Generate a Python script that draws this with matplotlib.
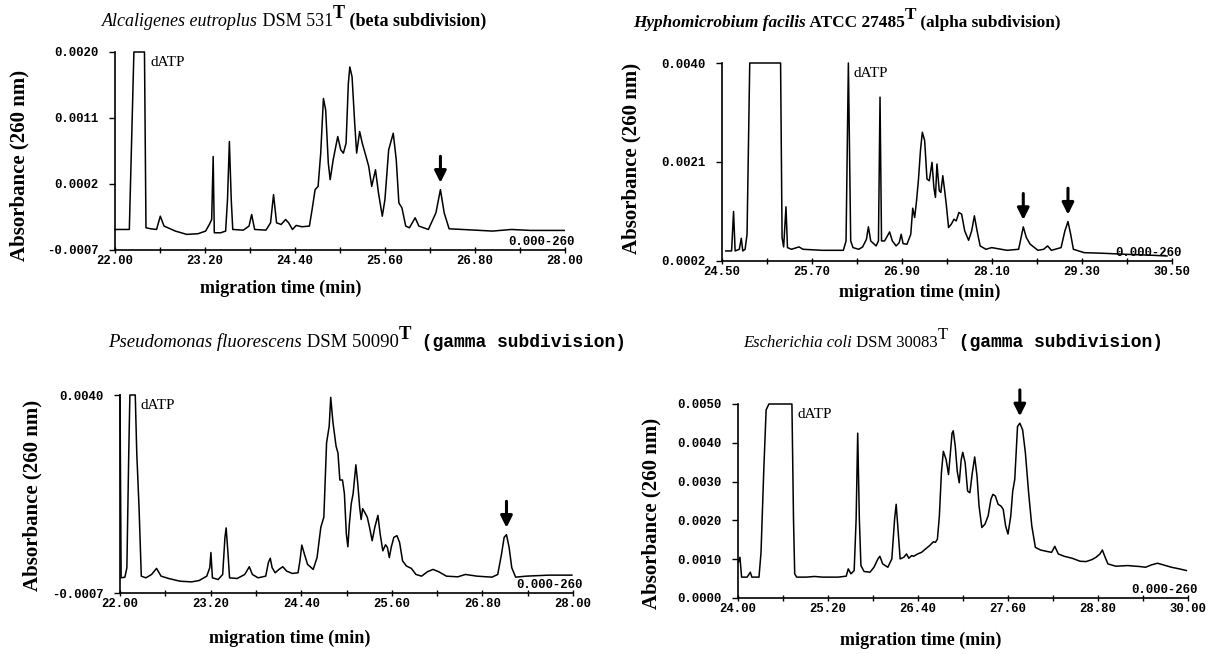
import matplotlib
matplotlib.use("Agg")
import matplotlib.pyplot as plt
from matplotlib.ticker import FixedLocator
import numpy as np

SERIF = "Liberation Serif"
MONO = "Liberation Mono"

# Alcaligenes eutroplus DSM 531T (beta subdivision)
alc_time = [22.000, 22.176, 22.191, 22.252, 22.393, 22.413, 22.478, 22.554, 22.604, 22.654,
            22.805, 22.956, 23.107, 23.208, 23.258, 23.289, 23.309, 23.324, 23.409, 23.475,
            23.500, 23.525, 23.550, 23.570, 23.711, 23.787, 23.822, 23.862, 24.013, 24.074,
            24.114, 24.154, 24.215, 24.275, 24.315, 24.366, 24.416, 24.492, 24.592, 24.628,
            24.668, 24.708, 24.743, 24.779, 24.809, 24.844, 24.869, 24.909, 24.970, 25.010,
            25.045, 25.081, 25.111, 25.131, 25.161, 25.196, 25.222, 25.262, 25.297, 25.347,
            25.383, 25.423, 25.473, 25.513, 25.564, 25.599, 25.649, 25.710, 25.750, 25.785,
            25.826, 25.876, 25.926, 26.002, 26.052, 26.178, 26.279, 26.339, 26.389, 26.455,
            26.631, 27.034, 27.285, 27.537, 27.990]
alc_abs = [-0.000420, -0.000420, -0.000420, 0.002000, 0.002000, -0.000397, -0.000411, -0.000420,
           -0.000239, -0.000374, -0.000442, -0.000487, -0.000478, -0.000442, -0.000352, -0.000284,
           0.000575, -0.000465, -0.000465, -0.000442, -0.000013, 0.000779, -0.000013, -0.000420,
           -0.000429, -0.000374, -0.000216, -0.000420, -0.000429, -0.000329, 0.000055, -0.000329,
           -0.000352, -0.000284, -0.000329, -0.000420, -0.000365, -0.000383, -0.000374, -0.000148,
           0.000123, 0.000168, 0.000621, 0.001367, 0.001209, 0.000485, 0.000259, 0.000530,
           0.000847, 0.000666, 0.000621, 0.000756, 0.001570, 0.001796, 0.001661, 0.001028,
           0.000621, 0.000915, 0.000756, 0.000575, 0.000440, 0.000168, 0.000394, 0.000078,
           -0.000239, -0.000013, 0.000666, 0.000892, 0.000530, -0.000058, -0.000126, -0.000374,
           -0.000397, -0.000261, -0.000374, -0.000420, -0.000193, 0.000123, -0.000193, -0.000411,
           -0.000420, -0.000442, -0.000420, -0.000433, -0.000433]
alc_arrows = [26.339]

# Hyphomicrobium facilis ATCC 27485T (alpha subdivision)
hyp_time = [24.551, 24.628, 24.654, 24.675, 24.731, 24.757, 24.777, 24.808, 24.834, 24.870,
            25.281, 25.301, 25.322, 25.353, 25.373, 25.425, 25.527, 25.579, 25.836, 26.118,
            26.154, 26.185, 26.216, 26.247, 26.324, 26.375, 26.426, 26.452, 26.483, 26.555,
            26.586, 26.607, 26.627, 26.668, 26.735, 26.771, 26.822, 26.863, 26.889, 26.914,
            26.966, 27.017, 27.043, 27.069, 27.094, 27.120, 27.146, 27.171, 27.202, 27.233,
            27.264, 27.300, 27.325, 27.346, 27.366, 27.397, 27.418, 27.444, 27.469, 27.490,
            27.521, 27.557, 27.593, 27.623, 27.659, 27.695, 27.736, 27.788, 27.829, 27.865,
            27.901, 27.942, 28.019, 28.096, 28.147, 28.301, 28.455, 28.497, 28.517, 28.558,
            28.610, 28.712, 28.789, 28.841, 28.892, 29.021, 29.072, 29.113, 29.149, 29.185,
            29.329, 29.586, 29.894, 30.253, 30.433]
hyp_abs = [0.000393, 0.000393, 0.001150, 0.000393, 0.000425, 0.000636, 0.000393, 0.000425,
           0.000713, 0.004000, 0.004000, 0.000649, 0.000470, 0.001240, 0.000457, 0.000425,
           0.000470, 0.000425, 0.000405, 0.000405, 0.000585, 0.004000, 0.000585, 0.000457,
           0.000425, 0.000470, 0.000617, 0.000855, 0.000585, 0.000489, 0.000585, 0.003345,
           0.000585, 0.000585, 0.000758, 0.000585, 0.000489, 0.000553, 0.000713, 0.000534,
           0.000521, 0.000713, 0.001214, 0.001034, 0.001355, 0.001773, 0.002318, 0.002671,
           0.002511, 0.001773, 0.001740, 0.002094, 0.001612, 0.001420, 0.002061, 0.001548,
           0.001516, 0.001837, 0.001548, 0.001291, 0.000842, 0.000906, 0.001002, 0.000970,
           0.001131, 0.001099, 0.000778, 0.000598, 0.000778, 0.001067, 0.000778, 0.000489,
           0.000425, 0.000457, 0.000444, 0.000405, 0.000425, 0.000713, 0.000855, 0.000649,
           0.000521, 0.000405, 0.000425, 0.000489, 0.000405, 0.000457, 0.000778, 0.000957,
           0.000713, 0.000425, 0.000360, 0.000348, 0.000328, 0.000309, 0.000296]
hyp_arrows = [28.517, 29.113]

# Pseudomonas fluorescens DSM 50090T (gamma subdivision)
pse_time = [22.000, 22.015, 22.065, 22.091, 22.116, 22.131, 22.202, 22.222, 22.252, 22.282,
            22.343, 22.418, 22.484, 22.544, 22.645, 22.796, 22.947, 23.048, 23.149, 23.189,
            23.204, 23.224, 23.300, 23.360, 23.390, 23.406, 23.431, 23.451, 23.552, 23.652,
            23.713, 23.753, 23.829, 23.930, 23.965, 23.990, 24.015, 24.055, 24.106, 24.156,
            24.207, 24.282, 24.358, 24.383, 24.408, 24.443, 24.484, 24.559, 24.610, 24.660,
            24.700, 24.736, 24.771, 24.791, 24.821, 24.862, 24.887, 24.912, 24.947, 24.972,
            24.998, 25.018, 25.038, 25.063, 25.088, 25.124, 25.149, 25.174, 25.194, 25.214,
            25.239, 25.275, 25.305, 25.340, 25.375, 25.416, 25.446, 25.481, 25.517, 25.542,
            25.567, 25.592, 25.627, 25.668, 25.703, 25.743, 25.794, 25.859, 25.920, 25.995,
            26.071, 26.146, 26.222, 26.323, 26.474, 26.575, 26.726, 26.927, 27.003, 27.053,
            27.088, 27.119, 27.154, 27.189, 27.240, 27.381, 27.683, 27.985]
pse_abs = [0.004000, -0.000340, -0.000324, -0.000100, 0.002623, 0.004000, 0.004000, 0.002623,
           0.001342, -0.000300, -0.000340, -0.000260, -0.000116, -0.000300, -0.000356, -0.000420,
           -0.000436, -0.000404, -0.000300, -0.000100, 0.000261, -0.000340, -0.000380, -0.000260,
           0.000621, 0.000845, 0.000221, -0.000340, -0.000356, -0.000260, -0.000076, -0.000260,
           -0.000340, -0.000300, 0.000020, 0.000125, -0.000100, -0.000220, -0.000140, -0.000076,
           -0.000180, -0.000236, -0.000220, 0.000061, 0.000437, 0.000221, -0.000020, -0.000140,
           0.000141, 0.000861, 0.001101, 0.002863, 0.003263, 0.003944, 0.003343, 0.002783,
           0.002623, 0.001982, 0.001982, 0.001662, 0.000701, 0.000397, 0.000941, 0.001422,
           0.001662, 0.002343, 0.001902, 0.001342, 0.001045, 0.001302, 0.001222, 0.001101,
           0.000861, 0.000541, 0.000861, 0.001142, 0.000701, 0.000301, 0.000445, 0.000381,
           0.000141, 0.000381, 0.000621, 0.000661, 0.000501, 0.000061, -0.000060, -0.000116,
           -0.000260, -0.000300, -0.000196, -0.000140, -0.000196, -0.000300, -0.000316, -0.000260,
           -0.000300, -0.000324, -0.000260, 0.000221, 0.000621, 0.000685, 0.000381, -0.000100,
           -0.000324, -0.000300, -0.000276, -0.000276]
pse_arrows = [27.119]

# Escherichia coli DSM 30083T (gamma subdivision)
eco_time = [24.005, 24.026, 24.048, 24.122, 24.164, 24.185, 24.280, 24.307, 24.344, 24.375,
            24.412, 24.719, 24.740, 24.756, 24.782, 24.914, 25.020, 25.126, 25.337, 25.443,
            25.470, 25.506, 25.549, 25.575, 25.596, 25.618, 25.639, 25.681, 25.760, 25.813,
            25.866, 25.892, 25.929, 25.998, 26.051, 26.088, 26.109, 26.130, 26.162, 26.210,
            26.247, 26.278, 26.315, 26.342, 26.395, 26.447, 26.500, 26.553, 26.606, 26.632,
            26.659, 26.685, 26.712, 26.738, 26.775, 26.807, 26.828, 26.854, 26.870, 26.897,
            26.923, 26.950, 26.976, 26.997, 27.029, 27.061, 27.092, 27.124, 27.156, 27.187,
            27.214, 27.251, 27.293, 27.335, 27.372, 27.399, 27.431, 27.468, 27.505, 27.536,
            27.568, 27.600, 27.637, 27.663, 27.690, 27.727, 27.758, 27.795, 27.832, 27.875,
            27.917, 27.965, 28.033, 28.113, 28.181, 28.224, 28.271, 28.350, 28.456, 28.562,
            28.641, 28.720, 28.773, 28.826, 28.858, 28.890, 28.932, 29.038, 29.196, 29.355,
            29.434, 29.513, 29.593, 29.672, 29.778, 29.883, 29.978]
eco_abs = [0.000921, 0.001049, 0.000538, 0.000538, 0.000665, 0.000538, 0.000538, 0.001177,
           0.003310, 0.004846, 0.005000, 0.005000, 0.002031, 0.000623, 0.000538, 0.000538,
           0.000555, 0.000538, 0.000538, 0.000563, 0.000751, 0.000623, 0.000708, 0.002031,
           0.004249, 0.002031, 0.000836, 0.000683, 0.000665, 0.000793, 0.001007, 0.001075,
           0.000879, 0.000793, 0.001007, 0.002031, 0.002415, 0.001860, 0.001007, 0.001049,
           0.001135, 0.001024, 0.001092, 0.001075, 0.001135, 0.001177, 0.001263, 0.001348,
           0.001450, 0.001433, 0.001519, 0.002116, 0.003225, 0.003780, 0.003566, 0.003182,
           0.003652, 0.004249, 0.004309, 0.003908, 0.003268, 0.002969, 0.003566, 0.003754,
           0.003481, 0.002756, 0.002713, 0.003225, 0.003635, 0.003140, 0.002372, 0.001817,
           0.001903, 0.002116, 0.002543, 0.002671, 0.002628, 0.002415, 0.002372, 0.002287,
           0.001860, 0.001647, 0.002116, 0.002756, 0.003054, 0.004420, 0.004505, 0.004334,
           0.003737, 0.002713, 0.001860, 0.001305, 0.001237, 0.001203, 0.001177, 0.001331,
           0.001135, 0.001075, 0.001024, 0.000947, 0.000939, 0.000990, 0.001049, 0.001135,
           0.001237, 0.001075, 0.000879, 0.000819, 0.000836, 0.000811, 0.000793, 0.000853,
           0.000896, 0.000853, 0.000793, 0.000751, 0.000708]
eco_arrows = [27.758]

# axis ticks
alc_xticks = [22.00, 23.20, 24.40, 25.60, 26.80, 28.00]
hyp_xticks = [24.50, 25.70, 26.90, 28.10, 29.30, 30.50]
pse_xticks = [22.00, 23.20, 24.40, 25.60, 26.80, 28.00]
eco_xticks = [24.00, 25.20, 26.40, 27.60, 28.80, 30.00]
alc_yticks = [-0.0007, 0.0002, 0.0011, 0.0020]
hyp_yticks = [0.0002, 0.0021, 0.0040]
pse_yticks = [-0.0007, 0.0040]
eco_yticks = [0.0000, 0.0010, 0.0020, 0.0030, 0.0040, 0.0050]

W, H = 1222, 654
fig = plt.figure(figsize=(W / 100, H / 100), dpi=100)


def chromatogram(rect, t, a, xticks, yticks, arrows):
    ax = fig.add_axes(rect)
    ax.plot(t, a, color="black", lw=1.1, clip_on=False)
    ax.set_xlim(xticks[0], xticks[-1])
    ax.set_ylim(yticks[0], yticks[-1])
    minor = [(x0 + x1) / 2 for x0, x1 in zip(xticks[:-1], xticks[1:])]
    ax.xaxis.set_major_locator(FixedLocator(xticks))
    ax.xaxis.set_minor_locator(FixedLocator(minor))
    ax.yaxis.set_major_locator(FixedLocator(yticks))
    ax.xaxis.set_major_formatter(lambda v, p: f"{v:.2f}")
    ax.yaxis.set_major_formatter(lambda v, p: f"{v:.4f}")
    for s in ["top", "right"]:
        ax.spines[s].set_visible(False)
    for s in ["left", "bottom"]:
        ax.spines[s].set_linewidth(1.2)
    ax.tick_params(axis="x", which="both", direction="inout", length=5, width=1, pad=1)
    ax.tick_params(axis="y", direction="out", length=4, width=1, pad=8)
    for lab in ax.get_xticklabels() + ax.get_yticklabels():
        lab.set_fontfamily(MONO)
        lab.set_fontweight("bold")
        lab.set_fontsize(8.8)
    ax.text(1.022, 0.012, "0.000-260", transform=ax.transAxes, ha="right", va="bottom",
            fontfamily=MONO, fontweight="bold", fontsize=8.8)
    # dATP label next to the flat-topped peak
    top = yticks[-1]
    flat = [ti for ti, ai in zip(t, a) if ai >= top]
    ax.annotate("dATP", xy=(flat[-1], top), xytext=(4, -3), textcoords="offset points",
                ha="left", va="top", fontfamily=SERIF, fontsize=11)
    for at in arrows:
        peak = np.interp(at, t, a)
        ax.annotate("", xy=(at, peak), xytext=(0, 24), textcoords="offset points",
                    arrowprops=dict(arrowstyle="-|>,head_length=0.7,head_width=0.35",
                                    color="black", lw=2.2, shrinkA=0, shrinkB=5))
    return ax


def title(ax, x, y, pieces):
    prev = None
    for txt, kw, rise in pieces:
        if prev is None:
            prev = ax.annotate(txt, xy=(x, y), xycoords="figure fraction", ha="left",
                               va="baseline", annotation_clip=False, **kw)
        else:
            prev = ax.annotate(txt, xy=(1, y), xycoords=(prev, "figure fraction"),
                               xytext=(0, rise), textcoords="offset points", ha="left",
                               va="baseline", annotation_clip=False, **kw)


def serif(size, **kw):
    return dict(fontfamily=SERIF, fontsize=size, **kw)


mono = dict(fontfamily=MONO, fontsize=13, fontweight="bold")
lab = dict(fontfamily=SERIF, fontweight="bold", fontsize=15)
xlab = dict(fontfamily=SERIF, fontweight="bold", fontsize=13)

ax1 = chromatogram([115 / W, 1 - 250 / H, 450 / W, 198 / H], alc_time, alc_abs,
                   alc_xticks, alc_yticks, alc_arrows)
ax2 = chromatogram([722 / W, 1 - 261 / H, 450 / W, 198 / H], hyp_time, hyp_abs,
                   hyp_xticks, hyp_yticks, hyp_arrows)
ax3 = chromatogram([120 / W, 1 - 593 / H, 453 / W, 198 / H], pse_time, pse_abs,
                   pse_xticks, pse_yticks, pse_arrows)
ax4 = chromatogram([738 / W, 1 - 598 / H, 450 / W, 194 / H], eco_time, eco_abs,
                   eco_xticks, eco_yticks, eco_arrows)

title(ax1, 102 / W, 1 - 26 / H, [("Alcaligenes eutroplus", serif(13, fontstyle="italic"), 0),
                                 (" DSM 531", serif(13), 0),
                                 ("T", serif(13, fontweight="bold"), 6),
                                 (" (beta subdivision)", serif(13, fontweight="bold"), 0)])
title(ax2, 633 / W, 1 - 27 / H, [("Hyphomicrobium facilis",
                                  serif(12.4, fontstyle="italic", fontweight="bold"), 0),
                                 (" ATCC 27485", serif(12.4, fontweight="bold"), 0),
                                 ("T", serif(12.4, fontweight="bold"), 6),
                                 (" (alpha subdivision)", serif(12.4, fontweight="bold"), 0)])
title(ax3, 108 / W, 1 - 347 / H, [("Pseudomonas fluorescens", serif(13.5, fontstyle="italic"), 0),
                                  (" DSM 50090", serif(13.5), 0),
                                  ("T", serif(13.5, fontweight="bold"), 6),
                                  (" (gamma subdivision)", mono, 0)])
title(ax4, 743 / W, 1 - 347 / H, [("Escherichia coli", serif(12, fontstyle="italic"), 0),
                                  (" DSM 30083", serif(12), 0),
                                  ("T", serif(12), 6),
                                  (" (gamma subdivision)", mono, 0)])

for (x, y) in [(19, 165), (631, 158), (32, 495), (651, 513)]:
    fig.text(x / W, 1 - y / H, "Absorbance (260 nm)", rotation=90, ha="center", va="center", **lab)
for (x, y) in [(281, 288), (920, 292), (290, 638), (921, 640)]:
    fig.text(x / W, 1 - y / H, "migration time (min)", ha="center", va="center", **xlab)

fig.savefig("out.png", dpi=100)
